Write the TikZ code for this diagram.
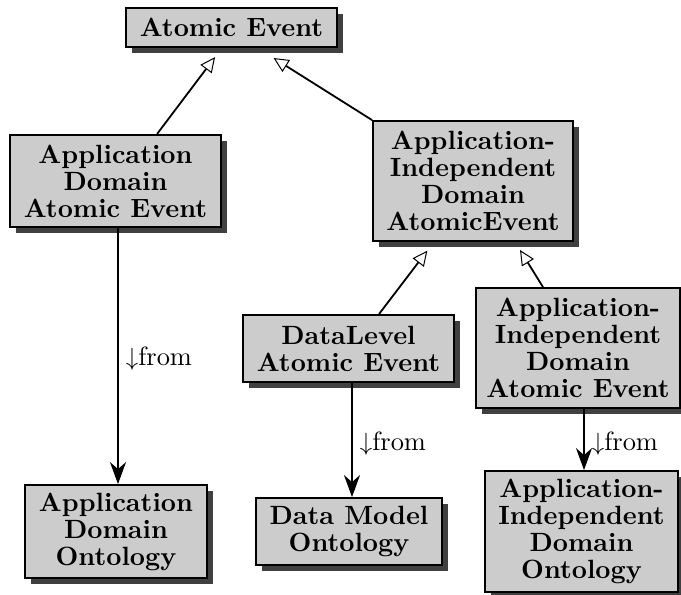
\documentclass[tikz,border=0pt]{standalone}
\usepackage{fontspec}
\newfontfamily\bxfont{lmroman10-bold.otf}
\newfontfamily\rgfont{lmroman10-regular.otf}
\usetikzlibrary{arrows.meta,shadows}
\begin{document}
\begin{tikzpicture}[x=1pt,y=-1pt,
  box/.style={draw=black, line width=1.8pt, fill=black!20, align=center, inner sep=0pt,
    font=\bxfont\fontsize{26.4}{27}\selectfont,
    drop shadow={shadow xshift=6pt, shadow yshift=-6pt, fill=black!75, opacity=1}},
  gen/.style={line width=1.8pt, -{Triangle[open,fill=white,length=15pt,width=14pt,line width=1pt]}},
  dep/.style={line width=1.8pt, -{Stealth[length=22pt,width=16pt,inset=7pt]}},
  lbl/.style={font=\rgfont\fontsize{26.4}{27}\selectfont, anchor=west, inner sep=0pt, xshift=7pt}]
\useasboundingbox (0,0) rectangle (681,595);
\clip (0,0) rectangle (681,595);

\node[box, minimum width=211pt, minimum height=39pt]  (ae)     at (231.5,27.5) {Atomic Event};
\node[box, minimum width=211pt, minimum height=92pt]  (adae)   at (115.5,181)  {Application\\Domain\\Atomic Event};
\node[box, minimum width=200pt, minimum height=120pt] (aidae)  at (473,181)    {Application-\\Independent\\Domain\\AtomicEvent};
\node[box, minimum width=211pt, minimum height=67pt]  (dlae)   at (348.5,348.5) {DataLevel\\Atomic Event};
\node[box, minimum width=204pt, minimum height=120pt] (aidae2) at (578,348)    {Application-\\Independent\\Domain\\Atomic Event};
\node[box, minimum width=182pt, minimum height=93pt]  (ado)    at (116,531.5)  {Application\\Domain\\Ontology};
\node[box, minimum width=186pt, minimum height=67pt]  (dmo)    at (349,531.5)  {Data Model\\Ontology};
\node[box, minimum width=193pt, minimum height=121pt] (aido)   at (581.5,531.5) {Application-\\Independent\\Domain\\Ontology};

\draw[gen, shorten >=11.5pt] ([xshift=41.5pt]adae.north) -- ([xshift=-9.5pt]ae.south);
\draw[gen, shorten >=19pt] (aidae.north west) -- ([xshift=26pt]ae.south);
\draw[gen, shorten >=11pt] ([xshift=30.5pt]dlae.north) -- ([xshift=-39pt]aidae.south);
\draw[gen, shorten >=9.5pt] ([xshift=-35pt]aidae2.north) -- ([xshift=42pt]aidae.south);

\draw[dep] ([xshift=2.5pt]adae.south) -- node[lbl, pos=0.51] (l1) {$\downarrow$from} ([xshift=2.5pt]adae.south |- ado.north);
\draw[dep] ([xshift=3.5pt]dlae.south) -- node[lbl, pos=0.53] (l2) {$\downarrow$from} ([xshift=3.5pt]dlae.south |- dmo.north);
\draw[dep] ([xshift=6pt]aidae2.south) -- node[lbl, pos=0.565] (l3) {$\downarrow$from} ([xshift=6pt]aidae2.south |- aido.north);
\end{tikzpicture}
\end{document}
